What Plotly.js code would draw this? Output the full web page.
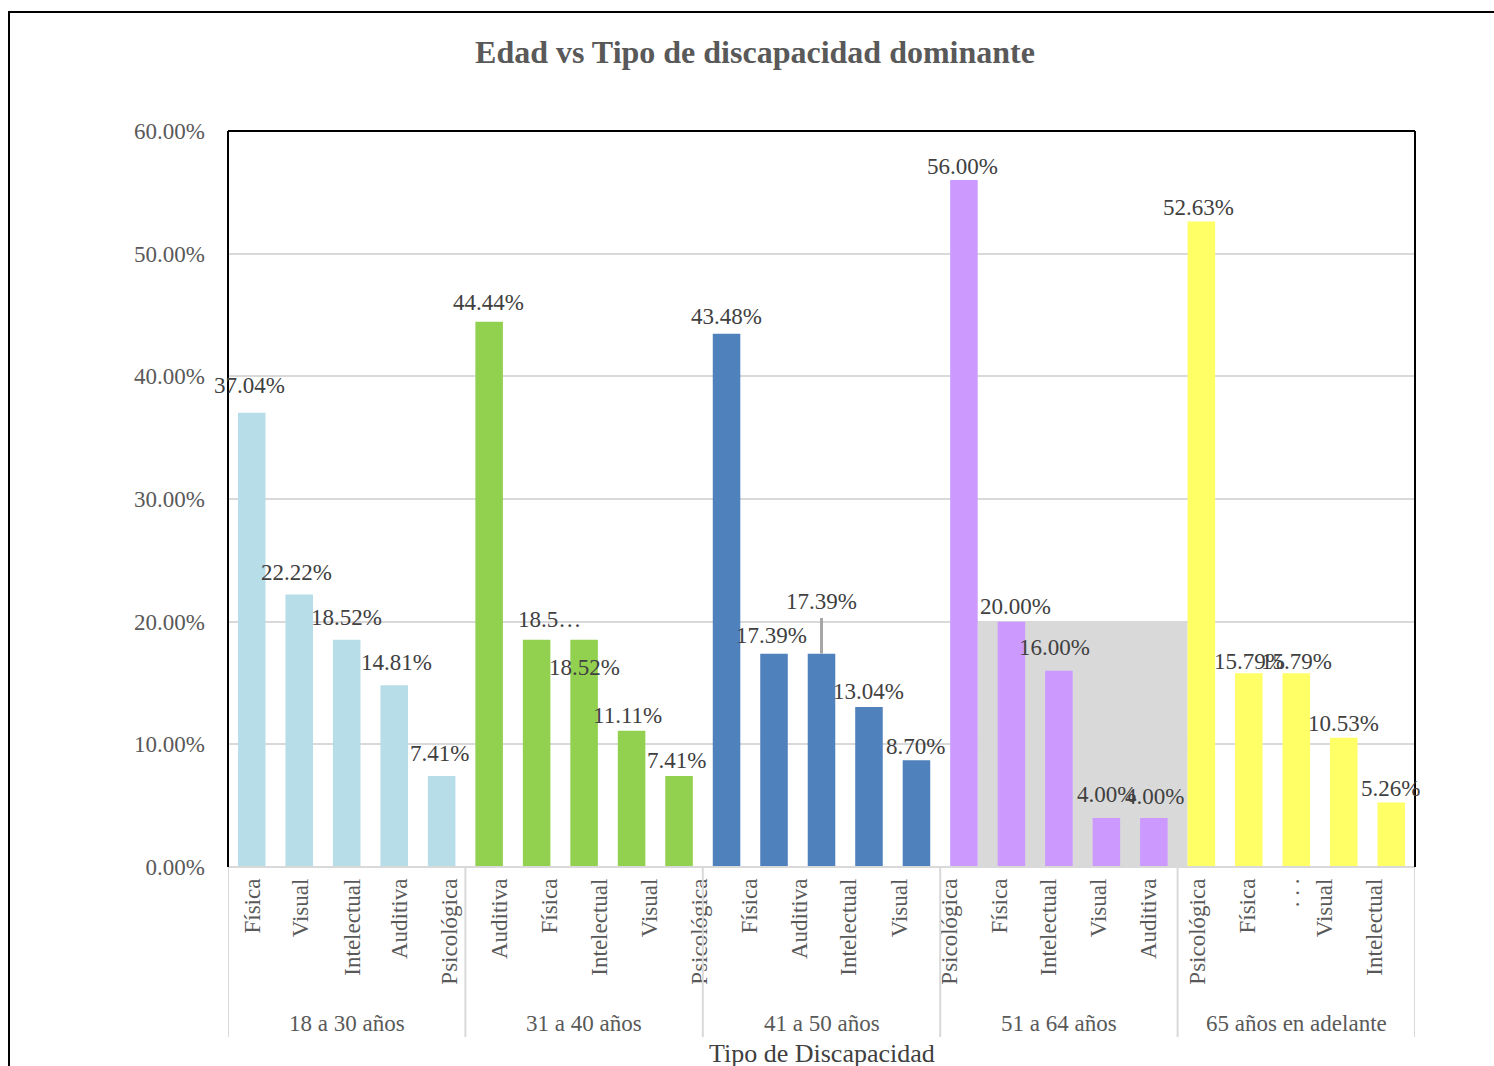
<!DOCTYPE html>
<html>
<head>
<meta charset="utf-8">
<script src="https://cdn.plot.ly/plotly-3.0.1.min.js"></script>
<style>
html,body{margin:0;padding:0;background:#fff;}
#chart{width:1494px;height:1066px;}
</style>
</head>
<body>
<div id="chart"></div>
<script>
// ---------------- DATA ----------------
const ageGroups = ['18 a 30 años', '31 a 40 años', '41 a 50 años', '51 a 64 años', '65 años en adelante'];

const types_18_30 = ['Física', 'Visual', 'Intelectual', 'Auditiva', 'Psicológica'];
const values_18_30 = [37.04, 22.22, 18.52, 14.81, 7.41];

const types_31_40 = ['Auditiva', 'Física', 'Intelectual', 'Visual', 'Psicológica'];
const values_31_40 = [44.44, 18.52, 18.52, 11.11, 7.41];

const types_41_50 = ['Psicológica', 'Física', 'Auditiva', 'Intelectual', 'Visual'];
const values_41_50 = [43.48, 17.39, 17.39, 13.04, 8.70];

const types_51_64 = ['Psicológica', 'Física', 'Intelectual', 'Visual', 'Auditiva'];
const values_51_64 = [56.00, 20.00, 16.00, 4.00, 4.00];

const types_65 = ['Psicológica', 'Física', '. . .', 'Visual', 'Intelectual'];
const values_65 = [52.63, 15.79, 15.79, 10.53, 5.26];

// labels as displayed (one is truncated in the original)
const shownLabels = [
  '37.04%', '22.22%', '18.52%', '14.81%', '7.41%',
  '44.44%', '18.5…', '18.52%', '11.11%', '7.41%',
  '43.48%', '17.39%', '17.39%', '13.04%', '8.70%',
  '56.00%', '20.00%', '16.00%', '4.00%', '4.00%',
  '52.63%', '15.79%', '15.79%', '10.53%', '5.26%'
];

const yTicks = [0, 10, 20, 30, 40, 50, 60];
const yTickText = ['0.00%', '10.00%', '20.00%', '30.00%', '40.00%', '50.00%', '60.00%'];

// ---------------- STYLE ----------------
const groupColors = ['#B7DDE8', '#92D050', '#4F81BD', '#CC99FF', '#FFFF66'];
// label offsets in px [dx, dy up]
const labelShift = [
  [-2, 27], [-3, 22], [0, 22], [2, 23], [-2, 23],
  [-1, 19], [13, 20], [0, -28], [-4, 15], [-3, 16],
  [0, 17], [-3, 18], [0, 52], [0, 16], [-1, 14],
  [-1, 14], [4, 15], [-4, 23], [0, 23], [1, 21],
  [-3, 14], [1, 12], [0, 12], [0, 14], [-1, 14]
];
// category label placement in the original drifts from the bars; one label (index 10) is hidden
const hiddenTick = 10;
const tickPixel = [253, 301, 353, 400, 450, 500, 550, 600, 650, 700,
                   750, 800, 849, 900, 950, 1000, 1049, 1099, 1149,
                   1198, 1248, 1292, 1325, 1375];
const PLOT_L = 228, PLOT_W = 1187;
const FONT = '"Liberation Serif", "Times New Roman", serif';

// ---------------- BUILD ----------------
const groupTypes = [types_18_30, types_31_40, types_41_50, types_51_64, types_65];
const groupValues = [values_18_30, values_31_40, values_41_50, values_51_64, values_65];

const traces = [];
const allTypes = [];
const allX = [], allY = [];
let idx = 0;
groupTypes.forEach((types, g) => {
  const xs = [];
  types.forEach((t, i) => {
    xs.push(idx);
    allTypes.push(t);
    allX.push(idx);
    allY.push(groupValues[g][i]);
    idx++;
  });
  traces.push({
    type: 'bar',
    x: xs,
    y: groupValues[g],
    marker: {color: groupColors[g], line: {width: 0}},
    hoverinfo: 'skip',
    showlegend: false
  });
});
const nCat = idx;
const barFrac = 0.58;
const unitPx = PLOT_W / nCat;

const ticktext = allTypes.filter((t, i) => i !== hiddenTick);
const tickvals = tickPixel.map(p => (p - PLOT_L) / unitPx - 0.5);

const annotations = [];
allX.forEach((x, i) => {
  annotations.push({
    x: x, y: allY[i], xref: 'x', yref: 'y',
    text: shownLabels[i], showarrow: false,
    xanchor: 'center', yanchor: 'middle',
    xshift: labelShift[i][0], yshift: labelShift[i][1],
    font: {family: FONT, size: 23, color: '#404040'}
  });
});

// group labels
let start = 0;
groupTypes.forEach((types, g) => {
  const mid = start + (types.length - 1) / 2;
  annotations.push({
    x: mid, y: -0.212, xref: 'x', yref: 'paper',
    text: ageGroups[g], showarrow: false,
    xanchor: 'center', yanchor: 'middle',
    font: {family: FONT, size: 23, color: '#595959'}
  });
  start += types.length;
});
// axis title
annotations.push({
  x: 0.5, y: -0.254, xref: 'paper', yref: 'paper',
  text: 'Tipo de Discapacidad', showarrow: false,
  xanchor: 'center', yanchor: 'middle',
  font: {family: FONT, size: 26, color: '#404040'}
});

const shapes = [];
// grey background block in 51-64 group
shapes.push({
  type: 'rect', xref: 'x', yref: 'y', layer: 'below',
  x0: 15 + barFrac / 2, x1: 20 - barFrac / 2, y0: 0, y1: 20,
  fillcolor: '#D9D9D9', line: {width: 0}
});
// leader line on 41-50 Auditiva label
shapes.push({
  type: 'line', xref: 'x', yref: 'y',
  x0: 12, x1: 12, y0: allY[12], y1: 20.3,
  line: {color: '#A6A6A6', width: 3}
});
// group dividers
let b = -0.5;
shapes.push({type: 'line', xref: 'x', yref: 'paper', x0: b, x1: b, y0: 0, y1: -0.231, line: {color: '#D9D9D9', width: 2}});
groupTypes.forEach(types => {
  b += types.length;
  shapes.push({type: 'line', xref: 'x', yref: 'paper', x0: b, x1: b, y0: 0, y1: -0.231, line: {color: '#D9D9D9', width: 2}});
});
// x axis line (gray)
shapes.push({type: 'line', xref: 'paper', yref: 'paper', x0: 0, x1: 1, y0: 0, y1: 0, line: {color: '#D9D9D9', width: 2}});
// plot frame (black) left, top, right
shapes.push({type: 'line', xref: 'paper', yref: 'paper', x0: 0, x1: 0, y0: 0, y1: 1, line: {color: '#000', width: 2}});
shapes.push({type: 'line', xref: 'paper', yref: 'paper', x0: 0, x1: 1, y0: 1, y1: 1, line: {color: '#000', width: 2}});
shapes.push({type: 'line', xref: 'paper', yref: 'paper', x0: 1, x1: 1, y0: 0, y1: 1, line: {color: '#000', width: 2}});
// outer chart border
shapes.push({type: 'rect', xref: 'paper', yref: 'paper', x0: -0.1845, x1: 1.1, y0: -0.3, y1: 1.1617, line: {color: '#000', width: 2}, fillcolor: 'rgba(0,0,0,0)'});

const layout = {
  width: 1494, height: 1066,
  margin: {l: 228, r: 79, t: 131, b: 199},
  paper_bgcolor: '#fff', plot_bgcolor: '#fff',
  font: {family: FONT},
  bargap: 1 - barFrac,
  title: {
    text: '<b>Edad vs Tipo de discapacidad dominante</b>',
    x: 755 / 1494, xref: 'container', xanchor: 'center',
    y: 1 - 52 / 1066, yref: 'container', yanchor: 'middle',
    font: {family: FONT, size: 32, color: '#595959'}
  },
  xaxis: {
    range: [-0.5, nCat - 0.5],
    tickmode: 'array', tickvals: tickvals, ticktext: ticktext,
    tickangle: -90, ticks: '', showgrid: false, zeroline: false, showline: false,
    ticklabelstandoff: 6,
    tickfont: {family: FONT, size: 23, color: '#595959'},
    fixedrange: true
  },
  yaxis: {
    range: [0, 60],
    tickmode: 'array', tickvals: yTicks, ticktext: yTickText,
    showgrid: true, gridcolor: '#D9D9D9', gridwidth: 2,
    zeroline: false, showline: false, ticks: '',
    ticklabelstandoff: 22,
    tickfont: {family: FONT, size: 23, color: '#595959'},
    fixedrange: true
  },
  annotations: annotations,
  shapes: shapes
};

Plotly.newPlot('chart', traces, layout, {displayModeBar: false, staticPlot: true});
</script>
</body>
</html>
